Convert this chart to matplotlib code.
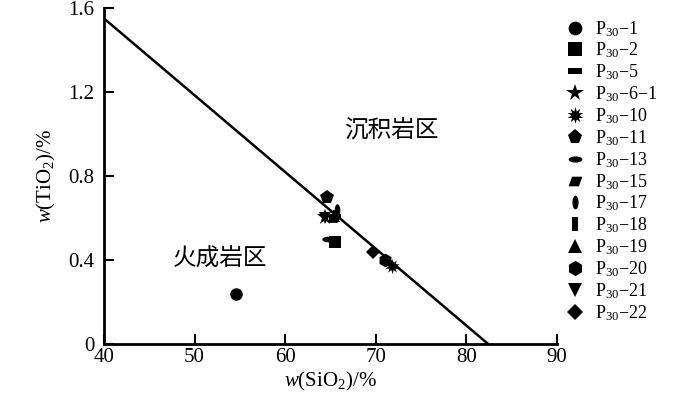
import numpy as np
import matplotlib
matplotlib.use("Agg")
import matplotlib.pyplot as plt

plt.rcParams['font.family'] = ['Liberation Serif', 'Noto Sans CJK SC', 'DejaVu Sans']
plt.rcParams['mathtext.fontset'] = 'custom'
plt.rcParams['mathtext.rm'] = 'Liberation Serif'
plt.rcParams['mathtext.it'] = 'Liberation Serif:italic'

samples = ["1", "2", "5", "6\u22121", "10", "11", "13", "15", "17", "18", "19", "20", "21", "22"]
sio2 = [54.6, 65.5, 65.5, 64.4, 71.8, 64.6, 64.7, 65.4, 65.7, 65.6, 65.4, 71.0, 64.4, 69.7]
tio2 = [0.24, 0.485, 0.61, 0.605, 0.37, 0.70, 0.50, 0.60, 0.64, 0.61, 0.61, 0.40, 0.60, 0.44]

line_x = [40, 82.4]
line_y = [1.55, 0.0]

xticks = [40, 50, 60, 70, 80, 90]
yticks = [0, 0.4, 0.8, 1.2, 1.6]
ytick_labels = ["0", "0.4", "0.8", "1.2", "1.6"]

t = np.linspace(0, 2 * np.pi, 40)
ell_h = list(zip(np.cos(t), 0.45 * np.sin(t)))
ell_v = list(zip(0.45 * np.cos(t), np.sin(t)))
flat_rect = [(-1, -0.4), (1, -0.4), (1, 0.4), (-1, 0.4), (-1, -0.4)]
tall_rect = [(-0.45, -1), (0.45, -1), (0.45, 1), (-0.45, 1), (-0.45, -1)]
parallelogram = [(-1, -0.7), (0.5, -0.7), (1, 0.7), (-0.5, 0.7), (-1, -0.7)]

markers = ['o', 's', flat_rect, '*', (10, 1, 0), 'p', ell_h, parallelogram,
           ell_v, tall_rect, '^', 'h', 'v', 'D']
sizes = [10, 10, 10, 13, 12, 11, 10, 10, 10, 10, 10, 11, 10, 8]

fig = plt.figure(figsize=(7, 3.93), dpi=100)
ax = fig.add_axes([0.1486, 0.1247, 0.6471, 0.8549])

ax.plot(line_x, line_y, color='black', lw=1.8, zorder=2)

handles = []
for s, x, y, m, ms in zip(samples, sio2, tio2, markers, sizes):
    h, = ax.plot([x], [y], linestyle='none', marker=m, markersize=ms * 0.9,
                 color='black', markeredgewidth=0, zorder=3,
                 label=r'$\mathrm{P}_{30}$' + '\u2212' + s)
    handles.append(h)

ax.set_xlim(40, 90)
ax.set_ylim(0, 1.6)
ax.set_xticks(xticks)
ax.set_yticks(yticks)
ax.set_yticklabels(ytick_labels)
ax.tick_params(axis='both', direction='in', length=7, width=1.5, labelsize=15, colors='black')
ax.tick_params(axis='x', pad=3)
ax.tick_params(axis='y', pad=7)
for side in ['top', 'right']:
    ax.spines[side].set_visible(False)
for side in ['left', 'bottom']:
    ax.spines[side].set_linewidth(2)

ax.set_xlabel(r'$\mathit{w}$(SiO$_2$)/%', fontsize=15, labelpad=2)
ax.set_ylabel(r'$\mathit{w}$(TiO$_2$)/%', fontsize=15, labelpad=7)

ax.text(71.7, 1.02, '沉积岩区', fontsize=17, ha='center', va='center',
        family=['Noto Sans CJK SC'])
ax.text(52.8, 0.41, '火成岩区', fontsize=17, ha='center', va='center',
        family=['Noto Sans CJK SC'])

fig.legend(handles=handles, loc='upper left', bbox_to_anchor=(0.796, 0.975),
           frameon=False, fontsize=13, labelspacing=0.12, handlelength=1.0,
           handletextpad=0.6, borderpad=0, markerscale=1.1)

fig.savefig('out.png', dpi=100)
